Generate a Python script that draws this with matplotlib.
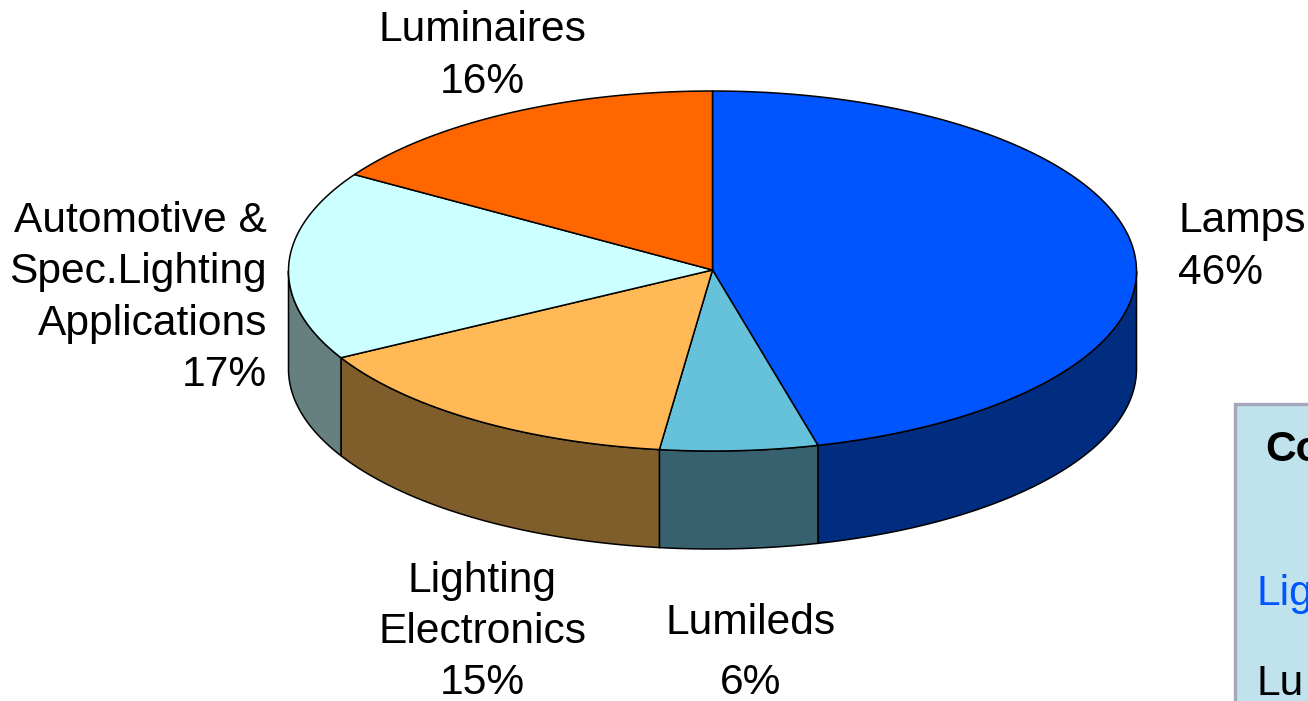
import numpy as np
import matplotlib
matplotlib.use('Agg')
import matplotlib.pyplot as plt
from matplotlib.patches import Polygon, Rectangle

plt.rcParams['font.family'] = ['Liberation Sans', 'DejaVu Sans']

# slices run clockwise from 12 o'clock
names = ['Lamps', 'Lumileds', 'Lighting\nElectronics',
         'Automotive &\nSpec.Lighting\nApplications', 'Luminaires']
shares = [46, 6, 15, 17, 16]
top_colors = ['#0055FF', '#66C2DB', '#FFB957', '#CCFFFF', '#FF6600']
side_colors = ['#002D80', '#386170', '#7F5E2C', '#668080', '#803300']

label_pos = [(1178, 247, 'left'), (751, 653, 'center'), (482, 632, 'center'),
             (267, 298, 'right'), (482, 56, 'center')]
label_spacing = [1.37, 1.65, 1.37, 1.37, 1.37]

box_texts = ['Co', 'Lig', 'Lu']
box_colors = ['black', '#0055FF', 'black']
box_weights = ['bold', 'normal', 'normal']
box_x = [1265, 1256, 1256]
box_y = [461, 605, 695]

cx, cy = 712.5, 271
rx, ry = 424, 180
depth = 98


def rim(a):
    # a in degrees clockwise from the top of the ellipse
    t = np.radians(a)
    return np.column_stack([cx + rx * np.sin(t), cy - ry * np.cos(t)])


fig = plt.figure(figsize=(13.08, 7.01), dpi=100)
ax = fig.add_axes([0, 0, 1, 1])
ax.set_xlim(0, 1308)
ax.set_ylim(701, 0)
ax.axis('off')

edges = np.cumsum([0] + shares) / sum(shares) * 360

# outer wall, only the front half of the rim is visible
for i in range(len(shares)):
    a0 = max(edges[i], 90)
    a1 = min(edges[i + 1], 270)
    if a1 <= a0:
        continue
    arc = rim(np.linspace(a0, a1, 80))
    wall = np.vstack([arc, arc[::-1] + [0, depth]])
    ax.add_patch(Polygon(wall, closed=True, facecolor=side_colors[i],
                         edgecolor='black', linewidth=1.1, zorder=2))

# top face
for i in range(len(shares)):
    arc = rim(np.linspace(edges[i], edges[i + 1], 150))
    face = np.vstack([[cx, cy - 1], arc])
    ax.add_patch(Polygon(face, closed=True, facecolor=top_colors[i],
                         edgecolor='black', linewidth=1.1, zorder=3))

for name, share, (x, y, ha), sp in zip(names, shares, label_pos, label_spacing):
    ax.text(x, y, f'{name}\n{share}%', ha=ha, va='center', fontsize=30.6,
            linespacing=sp, color='black', zorder=4, multialignment=ha)

# info box running off the page corner
ax.add_patch(Rectangle((1235, 403.5), 100, 320, facecolor='#C0E2EC',
                       edgecolor='#A6A6BC', linewidth=2.4, zorder=1))
for text, color, weight, x, y in zip(box_texts, box_colors, box_weights, box_x, box_y):
    ax.text(x, y, text, color=color, fontweight=weight, fontsize=30.6,
            ha='left', va='baseline', zorder=4)

fig.savefig('out.png', dpi=100)
